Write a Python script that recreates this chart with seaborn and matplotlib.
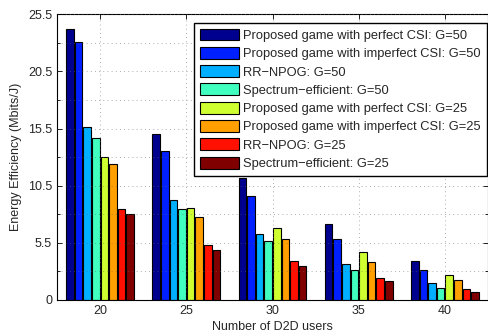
import numpy as np
import pandas as pd
import matplotlib
matplotlib.use("Agg")
import matplotlib.pyplot as plt
from matplotlib.ticker import FixedLocator
import seaborn as sns

users = ["20", "25", "30", "35", "40"]
series = [
    "Proposed game with perfect CSI: G=50",
    "Proposed game with imperfect CSI: G=50",
    "RR\u2212NPOG: G=50",
    "Spectrum\u2212efficient: G=50",
    "Proposed game with perfect CSI: G=25",
    "Proposed game with imperfect CSI: G=25",
    "RR\u2212NPOG: G=25",
    "Spectrum\u2212efficient: G=25",
]
perfect_50 = [24.2, 14.8, 10.9, 6.8, 3.5]
imperfect_50 = [23.0, 13.3, 9.25, 5.45, 2.7]
rrnpog_50 = [15.45, 8.9, 5.86, 3.19, 1.48]
spectrum_50 = [14.5, 8.1, 5.23, 2.7, 1.04]
perfect_25 = [12.75, 8.2, 6.4, 4.27, 2.26]
imperfect_25 = [12.1, 7.4, 5.45, 3.43, 1.75]
rrnpog_25 = [8.15, 4.9, 3.48, 2.0, 0.95]
spectrum_25 = [7.65, 4.5, 3.06, 1.72, 0.68]

ytick_labels = ["0", "5.5", "10.5", "15.5", "20.5", "25.5"]

bar_colors = ["#00008f", "#0020ff", "#00afff", "#40ffbf",
              "#cfff30", "#ff9f00", "#ff1000", "#800000"]

values = [perfect_50, imperfect_50, rrnpog_50, spectrum_50,
          perfect_25, imperfect_25, rrnpog_25, spectrum_25]
df = pd.DataFrame(
    [(u, s, v) for s, vals in zip(series, values) for u, v in zip(users, vals)],
    columns=["users", "scheme", "ee"],
)

sns.set_style("white")
plt.rcParams["font.family"] = ["Liberation Sans", "DejaVu Sans"]

fig = plt.figure(figsize=(4.88, 3.35), dpi=100)
ax = fig.add_axes([57 / 488, 35 / 335, 431 / 488, 285.7 / 335])

sns.barplot(data=df, x="users", y="ee", hue="scheme", hue_order=series,
            order=users, palette=bar_colors, width=0.8, gap=0.12,
            edgecolor="black", linewidth=0.8, saturation=1, ax=ax)

ax.set_xlim(-0.5, 4.5)
ax.set_ylim(0, 25.5)
major = np.linspace(0, 25.5, 6)
ax.yaxis.set_major_locator(FixedLocator(major))
ax.set_yticklabels(ytick_labels)
ax.yaxis.set_minor_locator(FixedLocator(major[:-1] + 2.55))

# dotted grid drawn over the bars
ax.set_axisbelow(False)
grid_kw = dict(linestyle=(0, (1, 4)), color="#666666", linewidth=0.6, alpha=0.7)
ax.grid(True, which="both", axis="y", **grid_kw)
ax.grid(True, which="major", axis="x", **grid_kw)

for side in ["left", "right", "top", "bottom"]:
    ax.spines[side].set_visible(True)
    ax.spines[side].set_color("black")
    ax.spines[side].set_linewidth(0.8)
ax.tick_params(which="both", direction="in", top=True, right=True,
               left=True, bottom=True, labelsize=9, length=3.5, width=0.6,
               color="black", pad=3.5)
ax.tick_params(which="minor", length=2.5)

ax.set_xlabel("Number of D2D users", fontsize=9, labelpad=3)
ax.set_ylabel("Energy Efficiency (Mbits/J)", fontsize=9, labelpad=4)

handles, labels = ax.get_legend_handles_labels()
if ax.get_legend() is not None:
    ax.get_legend().remove()
for h in handles:
    h.set_edgecolor("black")
    h.set_linewidth(0.8)
leg = ax.legend(handles, labels, loc="upper left",
                bbox_to_anchor=(194 / 488, 1 - 22.7 / 335),
                bbox_transform=fig.transFigure, fontsize=9.3, frameon=True,
                fancybox=False, edgecolor="black", framealpha=1,
                handlelength=3.0, handleheight=1.05, handletextpad=0.35,
                labelspacing=0.38, borderpad=0.45, borderaxespad=0)
leg.get_frame().set_linewidth(1.0)
leg.set_zorder(10)

fig.savefig("out.png", dpi=100)
